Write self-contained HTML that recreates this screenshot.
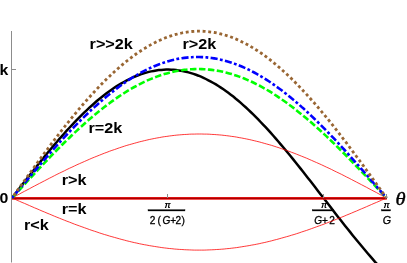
<!DOCTYPE html>
<html><head><meta charset="utf-8"><style>
html,body{margin:0;padding:0;background:#fff;}
svg{display:block;}
text{font-family:"Liberation Sans",sans-serif;}
.b{font-weight:bold;fill:#000;}
.s{font-family:"Liberation Serif",serif;}
</style></head><body>
<svg width="407" height="263" viewBox="0 0 407 263" style="will-change:transform">
<defs><filter id="noaa" x="-5%" y="-20%" width="110%" height="140%" color-interpolation-filters="sRGB"><feOffset dx="0" dy="0"/></filter></defs>
<rect width="407" height="263" fill="#fff"/>
<!-- fractions -->
<g font-size="10.1" fill="#000" stroke="#000" stroke-width="0.3" filter="url(#noaa)">
<text transform="translate(167.7,207.8) scale(1,1)" text-anchor="middle" font-style="italic" font-weight="bold" font-size="8.8" stroke="none">π</text>
<rect x="148" y="209.6" width="37" height="1.4"/>
<text x="149.7" y="224">2<tspan dx="2.1">(</tspan><tspan font-style="italic" dx="1.6">G</tspan><tspan dx="-0.1">+</tspan><tspan dx="-0.65">2</tspan><tspan dx="0.45">)</tspan></text>
<text transform="translate(324,207.8) scale(1,1)" text-anchor="middle" font-style="italic" font-weight="bold" font-size="8.8" stroke="none">π</text>
<rect x="312.2" y="209.6" width="21.6" height="1.4"/>
<text x="314.2" y="224"><tspan font-style="italic">G</tspan>+<tspan dx="1.2">2</tspan></text>
<text transform="translate(386.5,207.8) scale(1,1)" text-anchor="middle" font-style="italic" font-weight="bold" font-size="8.8" stroke="none">π</text>
<rect x="381.4" y="209.6" width="9.2" height="1.4"/>
<text transform="translate(382.8,224) scale(1.06,1)" font-style="italic">G</text>
</g>
<!-- curves -->
<path d="M12.0,198.0 14.5,194.8 17.0,191.6 19.5,188.3 21.9,185.1 24.4,181.9 26.9,178.8 29.4,175.6 31.9,172.4 34.4,169.3 36.9,166.1 39.4,163.0 41.8,159.9 44.3,156.9 46.8,153.8 49.3,150.8 51.8,147.9 54.3,144.9 56.8,142.0 59.2,139.1 61.7,136.3 64.2,133.5 66.7,130.7 69.2,128.0 71.7,125.3 74.2,122.7 76.6,120.1 79.1,117.6 81.6,115.1 84.1,112.6 86.6,110.3 89.1,107.9 91.6,105.7 94.1,103.5 96.5,101.3 99.0,99.2 101.5,97.2 104.0,95.2 106.5,93.3 109.0,91.5 111.5,89.7 113.9,88.0 116.4,86.4 118.9,84.9 121.4,83.4 123.9,82.0 126.4,80.6 128.9,79.3 131.4,78.2 133.8,77.0 136.3,76.0 138.8,75.0 141.3,74.1 143.8,73.3 146.3,72.6 148.8,71.9 151.2,71.4 153.7,70.9 156.2,70.5 158.7,70.1 161.2,69.9 163.7,69.7 166.2,69.6 168.6,69.6 171.1,69.7 173.6,69.8 176.1,70.1 178.6,70.4 181.1,70.8 183.6,71.2 186.1,71.8 188.5,72.4 191.0,73.1 193.5,73.9 196.0,74.8 198.5,75.7 201.0,76.7 203.5,77.8 205.9,79.0 208.4,80.3 210.9,81.6 213.4,83.0 215.9,84.4 218.4,86.0 220.9,87.6 223.4,89.3 225.8,91.0 228.3,92.8 230.8,94.7 233.3,96.6 235.8,98.7 238.3,100.7 240.8,102.9 243.2,105.1 245.7,107.3 248.2,109.6 250.7,112.0 253.2,114.4 255.7,116.9 258.2,119.4 260.6,122.0 263.1,124.6 265.6,127.2 268.1,129.9 270.6,132.7 273.1,135.5 275.6,138.3 278.1,141.2 280.5,144.1 283.0,147.0 285.5,150.0 288.0,153.0 290.5,156.0 293.0,159.1 295.5,162.2 297.9,165.3 300.4,168.4 302.9,171.5 305.4,174.7 307.9,177.9 310.4,181.1 312.9,184.3 315.4,187.5 317.8,190.7 320.3,193.9 322.8,197.1 325.3,200.3 327.8,203.5 330.3,206.8 332.8,210.0 335.2,213.2 337.7,216.4 340.2,219.5 342.7,222.7 345.2,225.9 347.7,229.0 350.2,232.1 352.6,235.2 355.1,238.3 357.6,241.3 360.1,244.3 362.6,247.3 365.1,250.3 367.6,253.2 370.1,256.1 372.5,258.9 375.0,261.8 377.5,264.5 380.0,267.3" fill="none" stroke="#000" stroke-width="2.5"/>
<path d="M12.0,198.0 14.5,196.7 17.0,195.3 19.5,194.0 22.0,192.6 24.5,191.3 27.0,190.0 29.5,188.7 32.0,187.3 34.5,186.0 37.0,184.7 39.5,183.4 42.0,182.1 44.5,180.8 47.0,179.5 49.5,178.2 51.9,177.0 54.4,175.7 56.9,174.4 59.4,173.2 61.9,172.0 64.4,170.8 66.9,169.5 69.4,168.3 71.9,167.2 74.4,166.0 76.9,164.8 79.4,163.7 81.9,162.6 84.4,161.5 86.9,160.4 89.4,159.3 91.9,158.2 94.4,157.2 96.9,156.2 99.4,155.2 101.9,154.2 104.4,153.2 106.9,152.3 109.4,151.3 111.9,150.4 114.4,149.6 116.9,148.7 119.4,147.8 121.9,147.0 124.3,146.2 126.8,145.4 129.3,144.7 131.8,144.0 134.3,143.3 136.8,142.6 139.3,141.9 141.8,141.3 144.3,140.7 146.8,140.1 149.3,139.5 151.8,139.0 154.3,138.5 156.8,138.0 159.3,137.6 161.8,137.1 164.3,136.7 166.8,136.4 169.3,136.0 171.8,135.7 174.3,135.4 176.8,135.1 179.3,134.9 181.8,134.7 184.3,134.5 186.8,134.4 189.3,134.2 191.8,134.1 194.3,134.1 196.8,134.0 199.2,134.0 201.7,134.0 204.2,134.1 206.7,134.1 209.2,134.2 211.7,134.4 214.2,134.5 216.7,134.7 219.2,134.9 221.7,135.1 224.2,135.4 226.7,135.7 229.2,136.0 231.7,136.4 234.2,136.7 236.7,137.1 239.2,137.6 241.7,138.0 244.2,138.5 246.7,139.0 249.2,139.5 251.7,140.1 254.2,140.7 256.7,141.3 259.2,141.9 261.7,142.6 264.2,143.3 266.7,144.0 269.2,144.7 271.7,145.4 274.1,146.2 276.6,147.0 279.1,147.8 281.6,148.7 284.1,149.6 286.6,150.4 289.1,151.3 291.6,152.3 294.1,153.2 296.6,154.2 299.1,155.2 301.6,156.2 304.1,157.2 306.6,158.2 309.1,159.3 311.6,160.4 314.1,161.5 316.6,162.6 319.1,163.7 321.6,164.8 324.1,166.0 326.6,167.2 329.1,168.3 331.6,169.5 334.1,170.8 336.6,172.0 339.1,173.2 341.6,174.4 344.1,175.7 346.6,177.0 349.1,178.2 351.5,179.5 354.0,180.8 356.5,182.1 359.0,183.4 361.5,184.7 364.0,186.0 366.5,187.3 369.0,188.7 371.5,190.0 374.0,191.3 376.5,192.6 379.0,194.0 381.5,195.3 384.0,196.7 386.5,198.0" fill="none" stroke="#ff0000" stroke-width="0.78"/>
<path d="M12.0,198.0 14.5,199.1 17.0,200.2 19.5,201.3 22.0,202.4 24.5,203.4 27.0,204.5 29.5,205.6 32.0,206.7 34.5,207.8 37.0,208.8 39.5,209.9 42.0,211.0 44.5,212.0 47.0,213.1 49.5,214.1 51.9,215.1 54.4,216.2 56.9,217.2 59.4,218.2 61.9,219.2 64.4,220.2 66.9,221.2 69.4,222.1 71.9,223.1 74.4,224.1 76.9,225.0 79.4,225.9 81.9,226.8 84.4,227.7 86.9,228.6 89.4,229.5 91.9,230.4 94.4,231.2 96.9,232.0 99.4,232.9 101.9,233.7 104.4,234.5 106.9,235.2 109.4,236.0 111.9,236.7 114.4,237.4 116.9,238.1 119.4,238.8 121.9,239.5 124.3,240.1 126.8,240.8 129.3,241.4 131.8,242.0 134.3,242.6 136.8,243.1 139.3,243.7 141.8,244.2 144.3,244.7 146.8,245.1 149.3,245.6 151.8,246.0 154.3,246.4 156.8,246.8 159.3,247.2 161.8,247.6 164.3,247.9 166.8,248.2 169.3,248.5 171.8,248.7 174.3,249.0 176.8,249.2 179.3,249.4 181.8,249.5 184.3,249.7 186.8,249.8 189.3,249.9 191.8,250.0 194.3,250.1 196.8,250.1 199.2,250.1 201.7,250.1 204.2,250.1 206.7,250.0 209.2,249.9 211.7,249.8 214.2,249.7 216.7,249.5 219.2,249.4 221.7,249.2 224.2,249.0 226.7,248.7 229.2,248.5 231.7,248.2 234.2,247.9 236.7,247.6 239.2,247.2 241.7,246.8 244.2,246.4 246.7,246.0 249.2,245.6 251.7,245.1 254.2,244.7 256.7,244.2 259.2,243.7 261.7,243.1 264.2,242.6 266.7,242.0 269.2,241.4 271.7,240.8 274.1,240.1 276.6,239.5 279.1,238.8 281.6,238.1 284.1,237.4 286.6,236.7 289.1,236.0 291.6,235.2 294.1,234.5 296.6,233.7 299.1,232.9 301.6,232.0 304.1,231.2 306.6,230.4 309.1,229.5 311.6,228.6 314.1,227.7 316.6,226.8 319.1,225.9 321.6,225.0 324.1,224.1 326.6,223.1 329.1,222.1 331.6,221.2 334.1,220.2 336.6,219.2 339.1,218.2 341.6,217.2 344.1,216.2 346.6,215.1 349.1,214.1 351.5,213.1 354.0,212.0 356.5,211.0 359.0,209.9 361.5,208.8 364.0,207.8 366.5,206.7 369.0,205.6 371.5,204.5 374.0,203.4 376.5,202.4 379.0,201.3 381.5,200.2 384.0,199.1 386.5,198.0" fill="none" stroke="#ff0000" stroke-width="0.78"/>
<line x1="12" y1="198.3" x2="386.8" y2="198.3" stroke="#f01818" stroke-width="2.7"/>
<line x1="12" y1="198.3" x2="386.8" y2="198.3" stroke="#a80000" stroke-width="1.3"/>
<path d="M12.0,198.0 14.5,195.3 17.0,192.5 19.5,189.8 22.0,187.1 24.5,184.4 27.0,181.7 29.5,179.0 32.0,176.3 34.5,173.6 37.0,170.9 39.5,168.2 42.0,165.6 44.5,162.9 47.0,160.3 49.5,157.7 51.9,155.1 54.4,152.6 56.9,150.0 59.4,147.5 61.9,145.0 64.4,142.5 66.9,140.1 69.4,137.7 71.9,135.3 74.4,132.9 76.9,130.6 79.4,128.2 81.9,126.0 84.4,123.7 86.9,121.5 89.4,119.3 91.9,117.2 94.4,115.1 96.9,113.0 99.4,111.0 101.9,109.0 104.4,107.0 106.9,105.1 109.4,103.3 111.9,101.4 114.4,99.7 116.9,97.9 119.4,96.2 121.9,94.6 124.3,93.0 126.8,91.4 129.3,89.9 131.8,88.4 134.3,87.0 136.8,85.7 139.3,84.4 141.8,83.1 144.3,81.9 146.8,80.7 149.3,79.6 151.8,78.6 154.3,77.6 156.8,76.6 159.3,75.7 161.8,74.9 164.3,74.1 166.8,73.4 169.3,72.7 171.8,72.1 174.3,71.5 176.8,71.0 179.3,70.6 181.8,70.2 184.3,69.8 186.8,69.6 189.3,69.3 191.8,69.2 194.3,69.1 196.8,69.0 199.2,69.0 201.7,69.1 204.2,69.2 206.7,69.3 209.2,69.6 211.7,69.9 214.2,70.2 216.7,70.6 219.2,71.0 221.7,71.5 224.2,72.1 226.7,72.7 229.2,73.4 231.7,74.1 234.2,74.9 236.7,75.7 239.2,76.6 241.7,77.5 244.2,78.5 246.7,79.6 249.2,80.7 251.7,81.8 254.2,83.0 256.7,84.3 259.2,85.5 261.7,86.9 264.2,88.3 266.7,89.7 269.2,91.2 271.7,92.7 274.1,94.3 276.6,95.9 279.1,97.6 281.6,99.3 284.1,101.0 286.6,102.8 289.1,104.7 291.6,106.5 294.1,108.4 296.6,110.4 299.1,112.4 301.6,114.4 304.1,116.5 306.6,118.6 309.1,120.7 311.6,122.8 314.1,125.0 316.6,127.3 319.1,129.5 321.6,131.8 324.1,134.1 326.6,136.4 329.1,138.8 331.6,141.2 334.1,143.6 336.6,146.1 339.1,148.5 341.6,151.0 344.1,153.5 346.6,156.0 349.1,158.5 351.5,161.1 354.0,163.7 356.5,166.3 359.0,168.9 361.5,171.5 364.0,174.1 366.5,176.7 369.0,179.4 371.5,182.0 374.0,184.7 376.5,187.3 379.0,190.0 381.5,192.7 384.0,195.3 386.5,198.0" fill="none" stroke="#00ff00" stroke-width="2.6" stroke-dasharray="6.5 2.47" stroke-dashoffset="-0.5"/>
<path d="M12.0,198.0 14.5,195.0 17.0,192.0 19.5,189.0 22.0,186.0 24.5,183.1 27.0,180.1 29.5,177.1 32.0,174.2 34.5,171.2 37.0,168.3 39.5,165.4 42.0,162.5 44.5,159.6 47.0,156.7 49.5,153.8 51.9,151.0 54.4,148.2 56.9,145.4 59.4,142.6 61.9,139.9 64.4,137.2 66.9,134.5 69.4,131.9 71.9,129.2 74.4,126.6 76.9,124.1 79.4,121.5 81.9,119.0 84.4,116.6 86.9,114.2 89.4,111.8 91.9,109.4 94.4,107.1 96.9,104.9 99.4,102.7 101.9,100.5 104.4,98.3 106.9,96.3 109.4,94.2 111.9,92.2 114.4,90.3 116.9,88.4 119.4,86.5 121.9,84.7 124.3,83.0 126.8,81.3 129.3,79.6 131.8,78.0 134.3,76.5 136.8,75.0 139.3,73.6 141.8,72.2 144.3,70.9 146.8,69.6 149.3,68.4 151.8,67.3 154.3,66.2 156.8,65.2 159.3,64.2 161.8,63.3 164.3,62.5 166.8,61.7 169.3,60.9 171.8,60.3 174.3,59.7 176.8,59.1 179.3,58.6 181.8,58.2 184.3,57.9 186.8,57.6 189.3,57.3 191.8,57.2 194.3,57.0 196.8,57.0 199.2,57.0 201.7,57.1 204.2,57.2 206.7,57.4 209.2,57.7 211.7,58.0 214.2,58.4 216.7,58.8 219.2,59.3 221.7,59.9 224.2,60.5 226.7,61.2 229.2,61.9 231.7,62.7 234.2,63.6 236.7,64.5 239.2,65.5 241.7,66.5 244.2,67.6 246.7,68.7 249.2,69.9 251.7,71.2 254.2,72.5 256.7,73.9 259.2,75.3 261.7,76.8 264.2,78.3 266.7,79.9 269.2,81.5 271.7,83.2 274.1,84.9 276.6,86.7 279.1,88.5 281.6,90.3 284.1,92.3 286.6,94.2 289.1,96.2 291.6,98.3 294.1,100.3 296.6,102.5 299.1,104.6 301.6,106.9 304.1,109.1 306.6,111.4 309.1,113.7 311.6,116.1 314.1,118.5 316.6,120.9 319.1,123.4 321.6,125.8 324.1,128.4 326.6,130.9 329.1,133.5 331.6,136.1 334.1,138.7 336.6,141.4 339.1,144.1 341.6,146.8 344.1,149.5 346.6,152.3 349.1,155.0 351.5,157.8 354.0,160.6 356.5,163.4 359.0,166.2 361.5,169.1 364.0,171.9 366.5,174.8 369.0,177.7 371.5,180.6 374.0,183.5 376.5,186.4 379.0,189.3 381.5,192.2 384.0,195.1 386.5,198.0" fill="none" stroke="#0000ff" stroke-width="2.6" stroke-dasharray="7.1 2.35 2.8 2.36" stroke-dashoffset="9.7"/>
<path d="M12.0,198.0 14.5,194.5 17.0,191.0 19.5,187.5 22.0,184.0 24.5,180.6 27.0,177.1 29.5,173.6 32.0,170.2 34.5,166.7 37.0,163.3 39.5,159.9 42.0,156.5 44.5,153.1 47.0,149.8 49.5,146.5 51.9,143.1 54.4,139.9 56.9,136.6 59.4,133.4 61.9,130.2 64.4,127.0 66.9,123.8 69.4,120.7 71.9,117.6 74.4,114.6 76.9,111.6 79.4,108.6 81.9,105.7 84.4,102.8 86.9,100.0 89.4,97.2 91.9,94.4 94.4,91.7 96.9,89.0 99.4,86.4 101.9,83.8 104.4,81.3 106.9,78.8 109.4,76.4 111.9,74.0 114.4,71.7 116.9,69.5 119.4,67.3 121.9,65.1 124.3,63.1 126.8,61.0 129.3,59.1 131.8,57.2 134.3,55.3 136.8,53.5 139.3,51.8 141.8,50.2 144.3,48.6 146.8,47.1 149.3,45.6 151.8,44.2 154.3,42.9 156.8,41.7 159.3,40.5 161.8,39.4 164.3,38.3 166.8,37.3 169.3,36.4 171.8,35.6 174.3,34.8 176.8,34.2 179.3,33.5 181.8,33.0 184.3,32.5 186.8,32.1 189.3,31.8 191.8,31.5 194.3,31.3 196.8,31.2 199.2,31.2 201.7,31.2 204.2,31.3 206.7,31.5 209.2,31.8 211.7,32.1 214.2,32.5 216.7,33.0 219.2,33.5 221.7,34.2 224.2,34.8 226.7,35.6 229.2,36.4 231.7,37.3 234.2,38.3 236.7,39.4 239.2,40.5 241.7,41.7 244.2,42.9 246.7,44.2 249.2,45.6 251.7,47.1 254.2,48.6 256.7,50.2 259.2,51.8 261.7,53.5 264.2,55.3 266.7,57.2 269.2,59.1 271.7,61.0 274.1,63.1 276.6,65.1 279.1,67.3 281.6,69.5 284.1,71.7 286.6,74.0 289.1,76.4 291.6,78.8 294.1,81.3 296.6,83.8 299.1,86.4 301.6,89.0 304.1,91.7 306.6,94.4 309.1,97.2 311.6,100.0 314.1,102.8 316.6,105.7 319.1,108.6 321.6,111.6 324.1,114.6 326.6,117.6 329.1,120.7 331.6,123.8 334.1,127.0 336.6,130.2 339.1,133.4 341.6,136.6 344.1,139.9 346.6,143.1 349.1,146.5 351.5,149.8 354.0,153.1 356.5,156.5 359.0,159.9 361.5,163.3 364.0,166.7 366.5,170.2 369.0,173.6 371.5,177.1 374.0,180.6 376.5,184.0 379.0,187.5 381.5,191.0 384.0,194.5 386.5,198.0" fill="none" stroke="#996633" stroke-width="2.8" stroke-dasharray="2.9 2.74" stroke-dashoffset="2.56"/>
<!-- axes -->
<g stroke="#8c8c8c" stroke-width="1">
<line x1="11.5" y1="31" x2="11.5" y2="262.5"/>
<line x1="11.5" y1="69.5" x2="16" y2="69.5"/>
<line x1="167.5" y1="194" x2="167.5" y2="198"/>
<line x1="323.5" y1="194" x2="323.5" y2="198"/>
<line x1="386.5" y1="194" x2="386.5" y2="198"/>
</g>
<!-- labels -->
<g class="b" font-size="15" filter="url(#noaa)">
<text transform="translate(89.6,49.3) scale(1.08,1)">r&gt;&gt;2k</text>
<text transform="translate(182.5,49.2) scale(1.08,1)">r&gt;2k</text>
<text transform="translate(88.5,133.2) scale(1.08,1)">r=2k</text>
<text transform="translate(61.7,184.5) scale(1.08,1)">r&gt;k</text>
<text transform="translate(61.7,213.9) scale(1.08,1)">r=k</text>
<text transform="translate(23.9,229.5) scale(1.08,1)">r&lt;k</text>
<text transform="translate(-0.4,75) scale(1.06,1)">k</text>
<text transform="translate(-0.6,203.3) scale(1.06,1)">0</text>
</g>
<text class="s" filter="url(#noaa)" transform="translate(395.6,204.8) scale(1.08,1)" font-size="19" font-style="italic" stroke="#000" stroke-width="0.4">θ</text>
</svg>
</body></html>
